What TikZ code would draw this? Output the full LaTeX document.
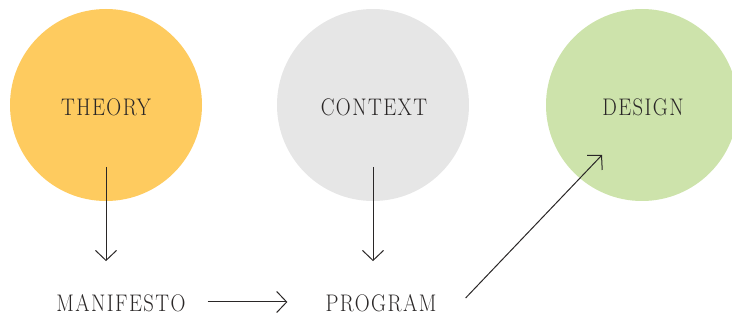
\documentclass[tikz,border=0pt]{standalone}
\usepackage{fontspec}
\setmainfont{Latin Modern Roman}[FakeStretch=0.86,LetterSpace=6]
\usetikzlibrary{arrows.meta,calc}
\definecolor{theoryc}{HTML}{FECB5F}
\definecolor{contextc}{HTML}{E6E6E6}
\definecolor{designc}{HTML}{CDE3AB}
\definecolor{inkc}{HTML}{2A2727}
\tikzset{
  blob/.style={circle,minimum size=192pt,inner sep=0pt,draw=none},
  lbl/.style={inner sep=0pt,text=inkc,font=\fontsize{24}{26}\selectfont},
  arr/.style={draw=inkc,line width=1pt,-{Straight Barb[length=10pt,width=21pt,line width=1pt]}},
}
\begin{document}
\begin{tikzpicture}[x=1pt,y=-1pt]
\useasboundingbox (0,0) rectangle (732,320);
\node[blob,fill=theoryc] (theory) at (106,105) {};
\node[blob,fill=contextc] (context) at (373,105) {};
\node[blob,fill=designc] (design) at (642,105) {};
\node[lbl] (theoryt) at (106,107) {THEORY};
\node[lbl] (contextt) at (374,107) {CONTEXT};
\node[lbl] (designt) at (643,107) {DESIGN};
\node[lbl] (manifesto) at (121,303) {MANIFESTO};
\node[lbl] (program) at (381,303) {PROGRAM};
\coordinate (t1) at ($(theory.center)+(0,62)$);
\coordinate (t2) at ($(t1 |- manifesto.north)+(0,-33)$);
\coordinate (c1) at ($(context.center)+(0,62)$);
\coordinate (c2) at ($(c1 |- program.north)+(0,-33)$);
\coordinate (m1) at ($(manifesto.east)+(22,-1)$);
\coordinate (p0) at ($(program.west)+(-38,-1)$);
\coordinate (p1) at ($(program.east)+(29,-5)$);
\coordinate (d1) at ($(design.center)+(-40,50)$);
\draw[arr] (t1) -- (t2);
\draw[arr] (c1) -- (c2);
\draw[arr] (m1) -- (p0);
\draw[arr] (p1) -- (d1);
\end{tikzpicture}
\end{document}
